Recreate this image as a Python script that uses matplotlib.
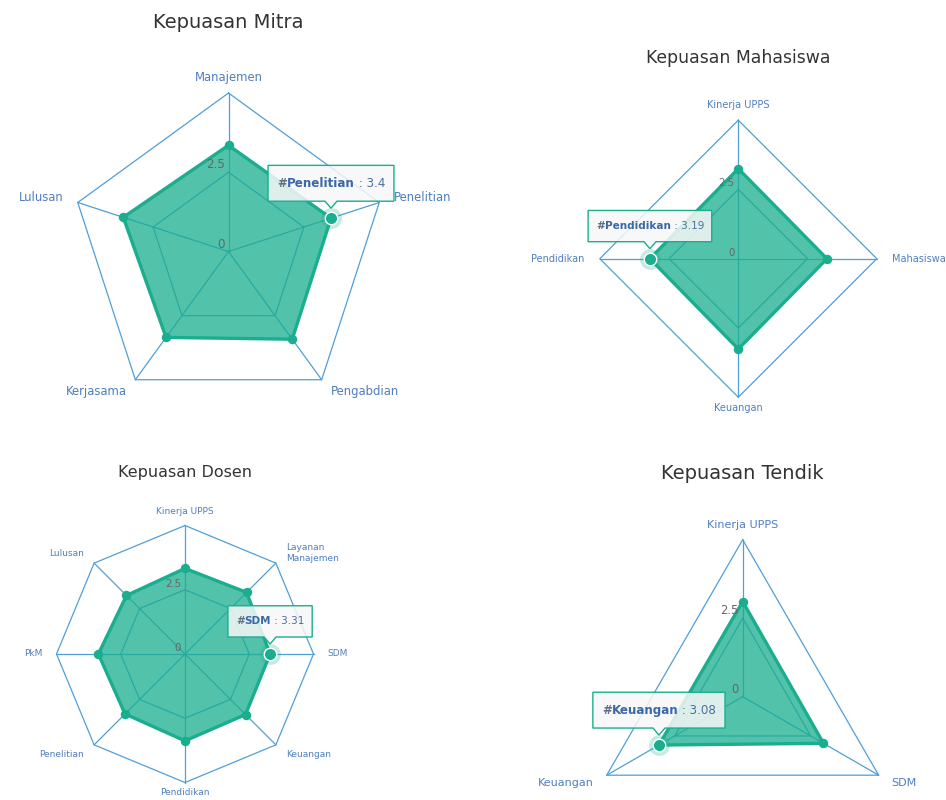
import numpy as np
import matplotlib
matplotlib.use("Agg")
import matplotlib.pyplot as plt
from matplotlib.patches import Polygon
from matplotlib.transforms import IdentityTransform

W, H = 946, 800
DPI = 100

# data (scale 0..5)
mitra_cats = ["Manajemen", "Penelitian", "Pengabdian", "Kerjasama", "Lulusan"]
mitra_vals = [3.35, 3.4, 3.42, 3.35, 3.49]

mhs_cats = ["Kinerja UPPS", "Mahasiswa", "Keuangan", "Pendidikan"]
mhs_vals = [3.25, 3.2, 3.26, 3.19]

dosen_cats = ["Kinerja UPPS", "Layanan\nManajemen", "SDM", "Keuangan",
              "Pendidikan", "Penelitian", "PkM", "Lulusan"]
dosen_vals = [3.33, 3.39, 3.31, 3.33, 3.38, 3.30, 3.37, 3.22]

tendik_cats = ["Kinerja UPPS", "SDM", "Keuangan"]
tendik_vals = [3.03, 2.97, 3.08]

r_max = 5
r_ticks = [0, 2.5]

TEAL = "#1aae8e"
GRID = "#4f9fd8"
LABEL = "#4f7fbf"
TIP_NAME = "#3a68a8"

fig = plt.figure(figsize=(W / DPI, H / DPI), dpi=DPI)
fig.patch.set_facecolor("white")

tips = []


def radar(title, cats, vals, hover, cx, cy, R, ty, title_fs, fs, tick_fs, tip_fs,
          lab_off=15):
    ax = fig.add_axes([(cx - R) / W, (H - cy - R) / H, 2 * R / W, 2 * R / H],
                      projection="polar")
    ax.set_theta_offset(np.pi / 2)
    ax.set_theta_direction(-1)
    ax.set_ylim(0, r_max)
    ax.set_xticks([])
    ax.set_yticks([])
    ax.grid(False)
    ax.spines["polar"].set_visible(False)
    ax.patch.set_visible(False)

    n = len(cats)
    theta = np.arange(n) * 2 * np.pi / n
    closed = np.append(theta, theta[0])

    # polygon grid
    for r in r_ticks[1:] + [r_max]:
        ax.plot(closed, [r] * (n + 1), color=GRID, lw=0.9, zorder=1, clip_on=False)
    for t in theta:
        ax.plot([t, t], [0, r_max], color=GRID, lw=0.9, zorder=1, clip_on=False)

    v = np.append(vals, vals[0])
    ax.fill(closed, v, color=TEAL, alpha=0.75, lw=0, zorder=2, clip_on=False)
    ax.plot(closed, v, color=TEAL, lw=2.4, zorder=3, clip_on=False)
    ax.plot(theta, vals, "o", ms=5.8, color=TEAL, zorder=4, clip_on=False)

    for r in r_ticks:
        ax.annotate(f"{r:g}", xy=(0, r), xytext=(-4, 1), textcoords="offset pixels",
                    ha="right", va="bottom", fontsize=tick_fs, color="#666666", zorder=5)

    for t, c in zip(theta, cats):
        s, co = np.sin(t), np.cos(t)
        ha = "left" if s > 0.1 else ("right" if s < -0.1 else "center")
        off = lab_off if co > -0.99 else lab_off - 4
        ax.annotate(c, xy=(t, r_max), xytext=(off * s, off * co),
                    textcoords="offset pixels", ha=ha, va="center",
                    multialignment="left", fontsize=fs, color=LABEL,
                    linespacing=1.3, annotation_clip=False)

    fig.text(cx / W, 1 - ty / H, title, ha="center", va="center",
             fontsize=title_fs, color="#333333")

    # hovered point + tooltip
    tx, tv = theta[hover], vals[hover]
    ax.plot(tx, tv, "o", ms=15, color=TEAL, alpha=0.25, mew=0, zorder=6, clip_on=False)
    ax.plot(tx, tv, "o", ms=9, color=TEAL, mec="white", mew=1, zorder=7, clip_on=False)

    fs_px = tip_fs * DPI / 72
    box_h = 3.0 * fs_px
    gap = box_h / 2 + 17
    t1 = ax.annotate("#", xy=(tx, tv), xytext=(0, gap), textcoords="offset pixels",
                     ha="left", va="center", fontsize=tip_fs, fontweight="bold",
                     color="#5f6f86", zorder=12, annotation_clip=False)
    t2 = ax.annotate(cats[hover], xy=(1, 0.5), xycoords=t1, ha="left", va="center",
                     fontsize=tip_fs, fontweight="bold", color=TIP_NAME, zorder=12)
    t3 = ax.annotate(f" : {tv:g}", xy=(1, 0.5), xycoords=t2, ha="left", va="center",
                     fontsize=tip_fs, color="#4a6f9f", zorder=12)
    tips.append((ax, tx, tv, t1, t3, gap, box_h, fs_px))


radar("Kepuasan Mitra", mitra_cats, mitra_vals, 1,
      228.5, 251.5, 158.5, 22, 14, 8.4, 8.6, 8.6)
radar("Kepuasan Mahasiswa", mhs_cats, mhs_vals, 3,
      738.3, 258.7, 138.5, 58, 12.4, 7.0, 7.3, 7.5)
radar("Kepuasan Dosen", dosen_cats, dosen_vals, 2,
      185.0, 654.0, 128.5, 472, 11.5, 6.5, 7.3, 7.5, lab_off=14)
radar("Kepuasan Tendik", tendik_cats, tendik_vals, 2,
      742.7, 696.7, 157.0, 473, 14, 8.0, 8.3, 8.6)

# centre the tooltip texts and draw boxes with a pointer
fig.canvas.draw()
r = fig.canvas.get_renderer()
for ax, tx, tv, t1, t3, gap, box_h, fs_px in tips:
    w = t3.get_window_extent(r).x1 - t1.get_window_extent(r).x0
    t1.xyann = (-w / 2, gap)
fig.canvas.draw()
for ax, tx, tv, t1, t3, gap, box_h, fs_px in tips:
    px, py = ax.transData.transform((tx, tv))
    x0 = t1.get_window_extent(r).x0 - 0.75 * fs_px
    x1 = t3.get_window_extent(r).x1 + 0.75 * fs_px
    yc = py + gap
    y0, y1 = yc - box_h / 2, yc + box_h / 2
    verts = [(x0, y0), (px - 6, y0), (px, py + 10), (px + 6, y0), (x1, y0),
             (x1, y1), (x0, y1)]
    ax.add_patch(Polygon(verts, closed=True, transform=IdentityTransform(),
                         fc=(0.97, 0.97, 0.97, 0.85), ec=TEAL, lw=1,
                         zorder=10, clip_on=False))

fig.savefig("out.png", dpi=DPI)
